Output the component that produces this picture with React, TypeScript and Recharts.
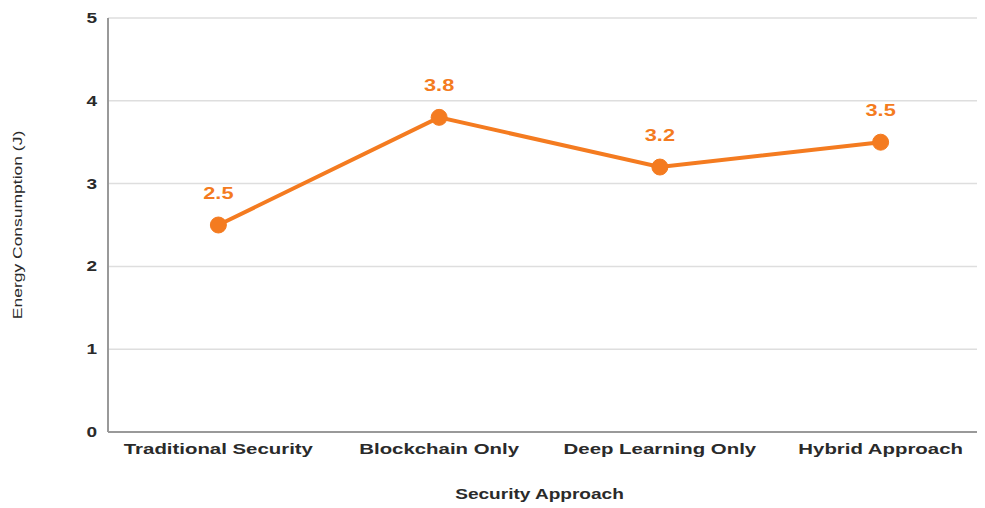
import React from 'react';
import { LineChart, Line, XAxis, YAxis, CartesianGrid, LabelList, Label } from 'recharts';

const categories = ['Traditional Security', 'Blockchain Only', 'Deep Learning Only', 'Hybrid Approach'];
const energyValues = [2.5, 3.8, 3.2, 3.5];
const yTicks = [0, 1, 2, 3, 4, 5];

const data = categories.map((name, i) => ({ name, energy: energyValues[i] }));

const FONT = '"Liberation Sans", Arial, Helvetica, sans-serif';
const ORANGE = '#f47b20';
const SX = 1.36;

const XTick = (props: any) => {
  const { x, y, payload } = props;
  return (
    <g transform={`translate(${x},${y + 14}) scale(${SX},1)`}>
      <text x={0} y={0} textAnchor="middle" fontFamily={FONT} fontWeight="bold" fontSize={15} fill="#2a2a2a">
        {payload.value}
      </text>
    </g>
  );
};

const YTick = (props: any) => {
  const { x, y, payload } = props;
  return (
    <g transform={`translate(${x - 3},${y + 5}) scale(${SX},1)`}>
      <text x={0} y={0} textAnchor="end" fontFamily={FONT} fontWeight="bold" fontSize={14} fill="#2a2a2a">
        {payload.value}
      </text>
    </g>
  );
};

const ValueLabel = (props: any) => {
  const { x, y, value } = props;
  return (
    <g transform={`translate(${x},${y - 26}) scale(${SX},1)`}>
      <text x={0} y={0} textAnchor="middle" fontFamily={FONT} fontWeight="bold" fontSize={16} fill={ORANGE}>
        {value}
      </text>
    </g>
  );
};

const XAxisTitle = (props: any) => {
  const { viewBox } = props;
  const cx = viewBox.x + viewBox.width / 2 - 10;
  const y = viewBox.y + 67;
  return (
    <g transform={`translate(${cx},${y}) scale(${SX},1)`}>
      <text x={0} y={0} textAnchor="middle" fontFamily={FONT} fontWeight="bold" fontSize={14} fill="#2a2a2a">
        Security Approach
      </text>
    </g>
  );
};

const YAxisTitle = (props: any) => {
  const { viewBox } = props;
  const cy = viewBox.y + viewBox.height / 2;
  const x = viewBox.x + 14;
  return (
    <g transform={`translate(${x},${cy}) rotate(-90) scale(1.4,1)`}>
      <text x={0} y={0} textAnchor="middle" fontFamily={FONT} fontSize={12.5} fill="#2a2a2a">
        Energy Consumption (J)
      </text>
    </g>
  );
};

export default function App() {
  return (
    <div style={{ width: 977, height: 500, overflow: 'hidden', background: '#fff' }}>
      <LineChart width={1000} height={500} data={data} margin={{ top: 10, right: 17, left: 0, bottom: 0 }}>
        <CartesianGrid vertical={false} stroke="#dedede" strokeWidth={1.5} />
        <XAxis
          dataKey="name"
          scale="band"
          height={76}
          tickLine={false}
          axisLine={{ stroke: '#999', strokeWidth: 2 }}
          tick={<XTick />}
          interval={0}
        >
          <Label content={<XAxisTitle />} />
        </XAxis>
        <YAxis
          width={100}
          domain={[0, 5]}
          ticks={yTicks}
          tickLine={false}
          axisLine={{ stroke: '#999', strokeWidth: 2 }}
          tick={<YTick />}
          interval={0}
        >
          <Label content={<YAxisTitle />} />
        </YAxis>
        <Line
          type="linear"
          dataKey="energy"
          stroke={ORANGE}
          strokeWidth={4}
          dot={{ r: 8, fill: ORANGE, stroke: ORANGE, strokeWidth: 1 }}
          activeDot={false}
          isAnimationActive={false}
        >
          <LabelList dataKey="energy" content={<ValueLabel />} />
        </Line>
      </LineChart>
    </div>
  );
}
